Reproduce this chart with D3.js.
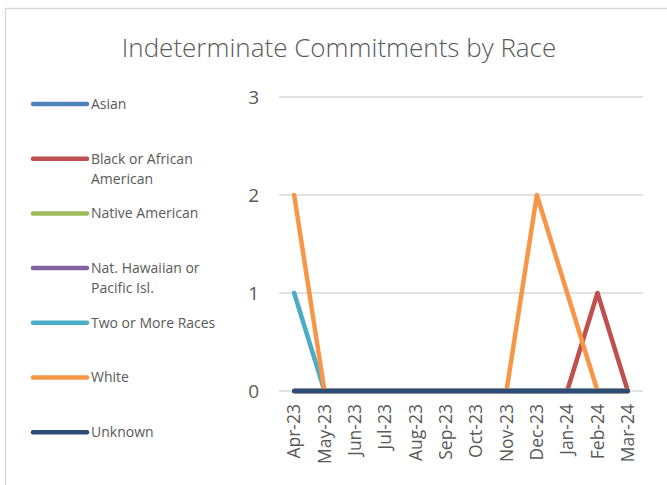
<!DOCTYPE html>
<html>
<head>
<meta charset="utf-8">
<script src="https://cdn.jsdelivr.net/npm/d3@7"></script>
<style>
  body { margin: 0; background: #fff; }
  text { font-family: "Open Sans", "Noto Sans", sans-serif; fill: #595959; }
</style>
</head>
<body>
<div id="chart"></div>
<script>
var months = ["Apr-23", "May-23", "Jun-23", "Jul-23", "Aug-23", "Sep-23",
              "Oct-23", "Nov-23", "Dec-23", "Jan-24", "Feb-24", "Mar-24"];
var seriesNames = ["Asian", "Black or African American", "Native American",
                   "Nat. Hawaiian or Pacific Isl.", "Two or More Races", "White", "Unknown"];
var legendLines = [["Asian"], ["Black or African", "American"], ["Native American"],
                   ["Nat. Hawaiian or", "Pacific Isl."], ["Two or More Races"], ["White"], ["Unknown"]];
var asian    = [0, 0, 0, 0, 0, 0, 0, 0, 0, 0, 0, 0];
var black    = [0, 0, 0, 0, 0, 0, 0, 0, 0, 0, 1, 0];
var native   = [0, 0, 0, 0, 0, 0, 0, 0, 0, 0, 0, 0];
var hawaiian = [0, 0, 0, 0, 0, 0, 0, 0, 0, 0, 0, 0];
var twoMore  = [1, 0, 0, 0, 0, 0, 0, 0, 0, 0, 0, 0];
var white    = [2, 0, 0, 0, 0, 0, 0, 0, 2, 1, 0, 0];
var unknown  = [0, 0, 0, 0, 0, 0, 0, 0, 0, 0, 0, 0];
var yTicks = [0, 1, 2, 3];
var colors = ["#4f81bd", "#c0504d", "#9bbb59", "#8064a2", "#4bacc6", "#f79646", "#2c4d75"];

var seriesValues = [asian, black, native, hawaiian, twoMore, white, unknown];

var width = 667, height = 485;
var margin = { left: 279, right: 24, top: 97, bottom: 94 };
var innerW = width - margin.left - margin.right;
var innerH = height - margin.top - margin.bottom;

var svg = d3.select("#chart").append("svg")
    .attr("width", width)
    .attr("height", height);

// chart area border (only top and left visible)
svg.append("rect")
    .attr("x", 5.5).attr("y", 8.5)
    .attr("width", 700).attr("height", 500)
    .attr("fill", "none")
    .attr("stroke", "#d9d9d9")
    .attr("stroke-width", 1.5);

svg.append("text")
    .attr("x", 339).attr("y", 57)
    .attr("text-anchor", "middle")
    .attr("font-size", "26px")
    .attr("font-weight", 300)
    .text("Indeterminate Commitments by Race");

var g = svg.append("g")
    .attr("transform", "translate(" + margin.left + "," + margin.top + ")");

var x = d3.scaleBand().domain(months).range([0, innerW]);
var y = d3.scaleLinear().domain([0, 3]).range([innerH, 0]);

// gridlines
g.selectAll(".grid").data(yTicks).enter().append("line")
    .attr("class", "grid")
    .attr("x1", 0).attr("x2", innerW)
    .attr("y1", function(d) { return y(d); })
    .attr("y2", function(d) { return y(d); })
    .attr("stroke", "#d9d9d9")
    .attr("stroke-width", 1.5);

// y axis
var yAxis = g.append("g")
    .call(d3.axisLeft(y).tickValues(yTicks).tickSize(0).tickPadding(20).tickFormat(d3.format("d")));
yAxis.select(".domain").remove();
yAxis.selectAll("text").attr("font-size", "19px").attr("fill", "#595959");

// x axis
var xAxis = g.append("g")
    .attr("transform", "translate(0," + innerH + ")")
    .call(d3.axisBottom(x).tickSize(0));
xAxis.select(".domain").remove();
xAxis.selectAll("text")
    .attr("font-size", "17.5px")
    .attr("fill", "#595959")
    .attr("text-anchor", "end")
    .attr("transform", "rotate(-90)")
    .attr("x", -13)
    .attr("y", 0)
    .attr("dy", "0.35em");

var line = d3.line()
    .x(function(d, i) { return x(months[i]) + x.bandwidth() / 2; })
    .y(function(d) { return y(d); });

g.selectAll(".series").data(seriesValues).enter().append("path")
    .attr("class", "series")
    .attr("d", function(d) { return line(d); })
    .attr("fill", "none")
    .attr("stroke", function(d, i) { return colors[i]; })
    .attr("stroke-width", 4.5)
    .attr("stroke-linecap", "round")
    .attr("stroke-linejoin", "round");

// legend
var legend = svg.append("g");
var item = legend.selectAll(".item").data(seriesNames).enter().append("g")
    .attr("class", "item")
    .attr("transform", function(d, i) { return "translate(33," + (104 + i * 54.7) + ")"; });

item.append("line")
    .attr("x1", 0).attr("x2", 54)
    .attr("stroke", function(d, i) { return colors[i]; })
    .attr("stroke-width", 4.5)
    .attr("stroke-linecap", "round");

item.append("text")
    .attr("x", 58)
    .attr("font-size", "14px")
    .each(function(d, i) {
        var t = d3.select(this);
        legendLines[i].forEach(function(s, j) {
            t.append("tspan").attr("x", 58).attr("dy", j === 0 ? "0.35em" : "20px").text(s);
        });
    });
</script>
</body>
</html>
